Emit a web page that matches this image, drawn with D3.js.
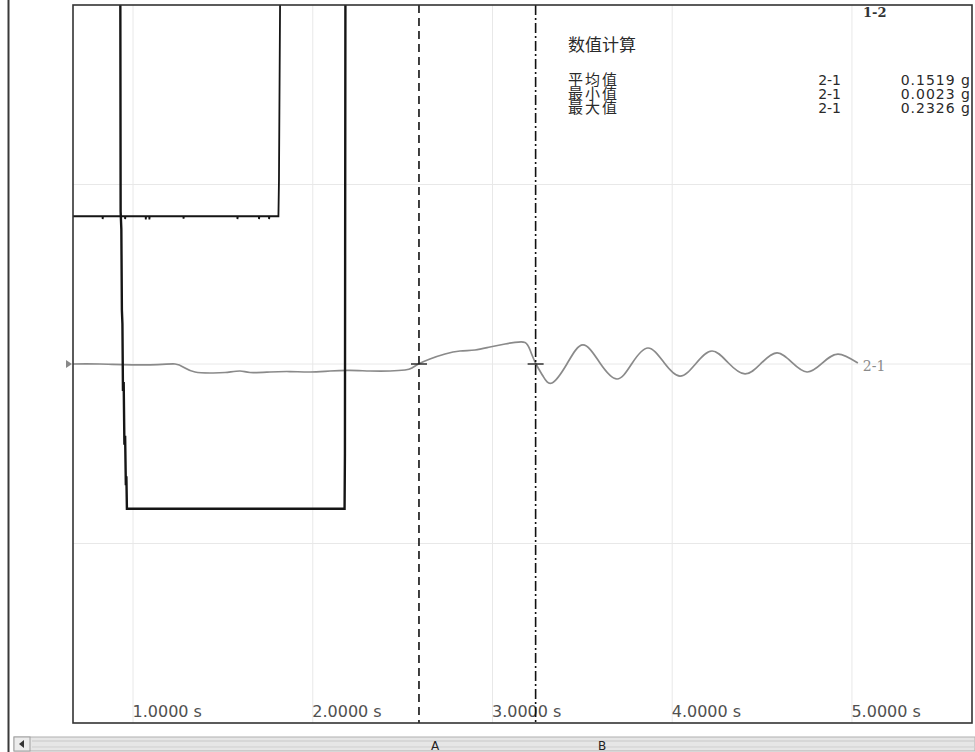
<!DOCTYPE html>
<html>
<head>
<meta charset="utf-8">
<script src="https://cdn.jsdelivr.net/npm/d3@7/dist/d3.min.js"></script>
<style>
  html, body { margin: 0; padding: 0; background: #fff; }
  svg { display: block; }
</style>
</head>
<body>
<svg id="chart" width="975" height="752"></svg>
<script>
// ---------------- data ----------------
const xDomain = [0.666, 5.668];          // seconds visible in window
const yDomain = [-4, 4];                 // vertical units (4 divisions)
const xTicks = [1, 2, 3, 4, 5];
const xTickLabels = ["1.0000 s", "2.0000 s", "3.0000 s", "4.0000 s", "5.0000 s"];
const yGrid = [-2, 0, 2];

const cursorNames = ["A", "B"];
const cursorTimes = [2.591, 3.240];

// channel 2-1 (acceleration, g)
const ch21Time = [0.666, 0.816, 1.095, 1.234, 1.289, 1.345, 1.428, 1.512, 1.595, 1.651, 1.762, 1.873, 1.985, 2.096, 2.207, 2.319, 2.430, 2.513, 2.552, 2.591, 2.652, 2.736, 2.819, 2.903, 2.986, 3.070, 3.125, 3.181, 3.209, 3.242, 3.281, 3.331, 3.414, 3.503, 3.598, 3.693, 3.776, 3.865, 3.954, 4.043, 4.132, 4.221, 4.310, 4.405, 4.494, 4.583, 4.666, 4.750, 4.833, 4.922, 5.033];
const ch21Value = [0.000, 0.000, -0.010, 0.000, -0.045, -0.089, -0.100, -0.095, -0.078, -0.095, -0.089, -0.084, -0.089, -0.078, -0.072, -0.078, -0.078, -0.067, -0.045, 0.002, 0.056, 0.111, 0.145, 0.156, 0.189, 0.223, 0.240, 0.240, 0.156, 0.000, -0.134, -0.212, 0.000, 0.212, 0.011, -0.167, 0.006, 0.178, 0.017, -0.134, 0.006, 0.145, 0.017, -0.111, 0.006, 0.123, 0.017, -0.089, 0.006, 0.111, 0.011];

// channel 1-1 (black, upper level then off-scale)
const ch11Time = [0.666, 0.830, 0.831, 0.833, 0.955, 0.956, 0.958, 1.070, 1.071, 1.073, 1.090, 1.091, 1.093, 1.280, 1.281, 1.283, 1.580, 1.581, 1.583, 1.700, 1.701, 1.703, 1.756, 1.757, 1.759, 1.809, 1.812, 1.820];
const ch11Value = [1.646, 1.646, 1.615, 1.646, 1.646, 1.615, 1.646, 1.646, 1.610, 1.646, 1.646, 1.610, 1.646, 1.646, 1.620, 1.646, 1.646, 1.615, 1.646, 1.646, 1.615, 1.646, 1.646, 1.615, 1.646, 1.646, 2.050, 4.600];

// channel 1-2 (black, off-scale, steep drop, lower level, off-scale)
const ch12Time = [0.900, 0.929, 0.931, 0.935, 0.938, 0.941, 0.944, 0.948, 0.952, 0.956, 0.960, 0.963, 0.966, 0.970, 2.177, 2.179, 2.182];
const ch12Value = [4.600, 4.600, 1.700, 1.500, 0.600, 0.450, -0.300, -0.200, -0.900, -0.800, -1.350, -1.250, -1.612, -1.612, -1.612, -1.000, 4.600];

// statistics between cursors
const statTitle = "数值计算";
const statNames = ["平均值", "最小值", "最大值"];
const statChannels = ["2-1", "2-1", "2-1"];
const statValues = ["0.1519 g", "0.0023 g", "0.2326 g"];

const traceLabel21 = "2-1";
const traceLabel12 = "1-2";

// ---------------- drawing ----------------
const svg = d3.select("#chart");
const plot = { left: 73, top: 5, right: 972, bottom: 723 };

const x = d3.scaleLinear().domain(xDomain).range([plot.left, plot.right]);
const y = d3.scaleLinear().domain(yDomain).range([plot.bottom, plot.top]);

// window left edge
svg.append("line").attr("x1", 8.5).attr("x2", 8.5).attr("y1", 0).attr("y2", 752)
  .attr("stroke", "#3a3a3a").attr("stroke-width", 2);

svg.append("defs").append("clipPath").attr("id", "clip")
  .append("rect").attr("x", plot.left).attr("y", plot.top)
  .attr("width", plot.right - plot.left).attr("height", plot.bottom - plot.top);

// grid
const grid = svg.append("g");
grid.selectAll("line.vg").data(xTicks).join("line")
  .attr("x1", d => x(d)).attr("x2", d => x(d))
  .attr("y1", plot.top).attr("y2", plot.bottom)
  .attr("stroke", "#e8e8e8").attr("stroke-width", 1);
grid.selectAll("line.hg").data(yGrid).join("line")
  .attr("x1", plot.left).attr("x2", plot.right)
  .attr("y1", d => y(d)).attr("y2", d => y(d))
  .attr("stroke", "#e8e8e8").attr("stroke-width", 1);

// x tick labels (drawn via axis, then styled)
const axis = d3.axisBottom(x).tickValues(xTicks)
  .tickFormat((d, i) => xTickLabels[i]).tickSize(0).tickPadding(0);
const axG = svg.append("g").attr("transform", `translate(0,${plot.bottom - 17})`).call(axis);
axG.select(".domain").remove();
axG.selectAll("text")
  .attr("text-anchor", "start").attr("dy", "0.71em").attr("dx", -1)
  .style("font-family", "'DejaVu Sans', sans-serif").style("font-size", "16px")
  .attr("fill", "#505050");

// traces
const traces = svg.append("g").attr("clip-path", "url(#clip)");
const lineSmooth = d3.line().x(d => x(d[0])).y(d => y(d[1])).curve(d3.curveNatural);
const lineLin = d3.line().x(d => x(d[0])).y(d => y(d[1]));

traces.append("path").datum(ch21Time.map((t, i) => [t, ch21Value[i]]))
  .attr("d", lineSmooth).attr("fill", "none").attr("stroke", "#8a8a8a").attr("stroke-width", 1.7);
traces.append("path").datum(ch11Time.map((t, i) => [t, ch11Value[i]]))
  .attr("d", lineLin).attr("fill", "none").attr("stroke", "#151515").attr("stroke-width", 1.8);
traces.append("path").datum(ch12Time.map((t, i) => [t, ch12Value[i]]))
  .attr("d", lineLin).attr("fill", "none").attr("stroke", "#151515").attr("stroke-width", 2.4);

// cursors
const cursorDash = ["8,5", "10,3,2,3"];
cursorTimes.forEach((t, i) => {
  svg.append("line").attr("x1", x(t)).attr("x2", x(t))
    .attr("y1", plot.top).attr("y2", plot.bottom)
    .attr("stroke", "#111").attr("stroke-width", 1.6)
    .attr("stroke-dasharray", cursorDash[i]);
  svg.append("line").attr("x1", x(t) - 8).attr("x2", x(t) + 8)
    .attr("y1", y(0)).attr("y2", y(0))
    .attr("stroke", "#222").attr("stroke-width", 1.4);
});

// frame
svg.append("rect").attr("x", plot.left).attr("y", plot.top)
  .attr("width", plot.right - plot.left).attr("height", plot.bottom - plot.top)
  .attr("fill", "none").attr("stroke", "#333").attr("stroke-width", 1.6);

// zero marker for 2-1
svg.append("path")
  .attr("d", `M${plot.left - 7},${y(0) - 4} L${plot.left - 1},${y(0)} L${plot.left - 7},${y(0) + 4} Z`)
  .attr("fill", "#888");

// trace labels
svg.append("text").attr("x", x(5.033) + 5).attr("y", y(0) + 7)
  .text(traceLabel21)
  .style("font-family", "'DejaVu Serif', serif").style("font-size", "14px").attr("fill", "#8a8a8a");
svg.append("text").attr("x", 863).attr("y", 17)
  .text(traceLabel12)
  .style("font-family", "'DejaVu Serif', serif").style("font-size", "13px").style("font-weight", "bold").attr("fill", "#333");

// statistics block (multi-line texts as tspans)
const stat = svg.append("g").style("fill", "#2a2a2a");
stat.append("text").attr("x", 568).attr("y", 51).text(statTitle)
  .style("font-family", "'Noto Sans CJK SC', sans-serif").style("font-size", "17px");

const rowGap = 14;
function block(xPos, anchor, lines, family, size, spacing) {
  const t = stat.append("text").attr("x", xPos).attr("y", 85).attr("text-anchor", anchor)
    .style("font-family", family).style("font-size", size).style("letter-spacing", spacing);
  t.selectAll("tspan").data(lines).join("tspan")
    .attr("x", xPos).attr("dy", (d, i) => i === 0 ? 0 : rowGap).text(d => d);
}
block(568, "start", statNames, "'Noto Sans CJK SC', sans-serif", "15px", "2px");
block(841, "end", statChannels, "'DejaVu Sans', sans-serif", "14px", "0px");
block(971, "end", statValues, "'DejaVu Sans', sans-serif", "14px", "1px");

// scrollbar
const sb = svg.append("g");
sb.append("rect").attr("x", 14).attr("y", 737).attr("width", 961).attr("height", 14)
  .attr("fill", "#e6e6e6").attr("stroke", "#b0b0b0");
sb.append("line").attr("x1", 32).attr("x2", 975).attr("y1", 741).attr("y2", 741).attr("stroke", "#c8c8c8");
sb.append("line").attr("x1", 32).attr("x2", 975).attr("y1", 747).attr("y2", 747).attr("stroke", "#cfcfcf");
sb.append("rect").attr("x", 14).attr("y", 737).attr("width", 16).attr("height", 14)
  .attr("fill", "#ececec").attr("stroke", "#a0a0a0");
sb.append("path").attr("d", "M19,744 L24,740 L24,748 Z").attr("fill", "#333");
const cursorMarkX = [435, 602];
cursorNames.forEach((n, i) => {
  sb.append("text").attr("x", cursorMarkX[i]).attr("y", 750).attr("text-anchor", "middle").text(n)
    .style("font-family", "'DejaVu Sans', sans-serif").style("font-size", "12px").attr("fill", "#222");
});
</script>
</body>
</html>
